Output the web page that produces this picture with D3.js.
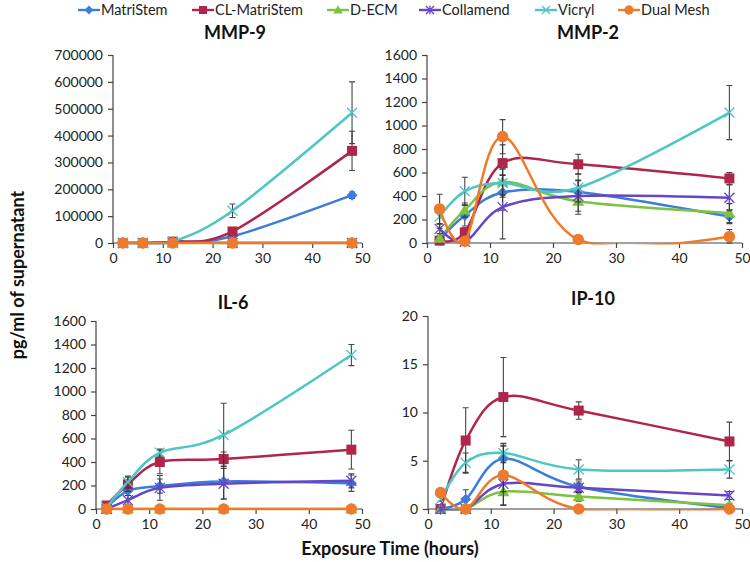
<!DOCTYPE html>
<html><head><meta charset="utf-8">
<script src="https://cdn.jsdelivr.net/npm/d3@7"></script>
<style>body{margin:0;background:#fff}svg{display:block;font-family:Lato,"Open Sans",sans-serif}</style>
</head><body>
<svg id="c" width="750" height="562"></svg>
<script>
const hours = [2, 6, 12, 24, 48];
const seriesNames = ["MatriStem", "CL-MatriStem", "D-ECM", "Collamend", "Vicryl", "Dual Mesh"];
const seriesColors = ["#3C7DDB", "#B0264A", "#7DC242", "#6646C8", "#4EC6C6", "#EE7B2C"];
const seriesMarkers = ["diamond", "square", "triangle", "star", "cross", "circle"];

// MMP-9
const mmp9Values = [
  [0, 0, 2000, 25000, 178000],
  [0, 0, 5000, 43000, 343000],
  [0, 0, 0, 0, 0],
  [0, 0, 3000, 0, 0],
  [0, 0, 5000, 120000, 485000],
  [0, 0, 0, 0, 0]
];
const mmp9Errors = [
  [0, 0, 0, 3000, 12000],
  [0, 0, 1000, 5000, 73000],
  [0, 0, 0, 0, 0],
  [0, 0, 0, 0, 0],
  [0, 0, 2000, 25000, 115000],
  [0, 0, 0, 0, 0]
];
// MMP-2
const mmp2Values = [
  [30, 235, 430, 435, 225],
  [20, 90, 680, 670, 550],
  [40, 280, 520, 355, 255],
  [120, 10, 305, 400, 385],
  [225, 440, 510, 470, 1110],
  [290, 15, 905, 30, 55]
];
const mmp2Errors = [
  [20, 90, 150, 100, 60],
  [15, 40, 155, 85, 50],
  [20, 60, 110, 110, 80],
  [40, 20, 270, 130, 110],
  [100, 120, 120, 120, 230],
  [125, 10, 145, 10, 60]
];
// IL-6
const il6Values = [
  [10, 155, 195, 235, 220],
  [30, 210, 400, 425, 505],
  [0, 0, 0, 0, 0],
  [0, 75, 180, 215, 240],
  [10, 230, 480, 630, 1310],
  [0, 0, 0, 0, 0]
];
const il6Errors = [
  [5, 40, 60, 150, 70],
  [10, 60, 100, 60, 165],
  [0, 0, 0, 0, 0],
  [0, 40, 105, 130, 60],
  [5, 50, 30, 270, 90],
  [0, 0, 0, 0, 0]
];
// IP-10
const ip10Values = [
  [0, 1.0, 5.2, 2.3, 0.1],
  [0, 7.1, 11.6, 10.2, 7.0],
  [0, 0, 1.8, 1.3, 0.4],
  [0, 0, 2.6, 2.2, 1.4],
  [1.0, 4.8, 5.8, 4.1, 4.1],
  [1.7, 0, 3.5, 0, 0]
];
const ip10Errors = [
  [0, 1.0, 1.3, 0.6, 0.2],
  [0, 3.4, 4.1, 0.9, 2.0],
  [0, 0, 1.4, 0.5, 0.2],
  [0, 0, 0.8, 0.5, 0.4],
  [0.2, 1.0, 1.0, 1.0, 0.9],
  [0.2, 0, 3.1, 0, 0]
];

const panels = [
  {title: "MMP-9", values: mmp9Values, errors: mmp9Errors, yMax: 700000, yStep: 100000, x0: 113, x1: 362, y0: 243, y1: 55, tx: 235, ty: 39},
  {title: "MMP-2", values: mmp2Values, errors: mmp2Errors, yMax: 1600, yStep: 200, x0: 427, x1: 742, y0: 243, y1: 55, tx: 588, ty: 39},
  {title: "IL-6", values: il6Values, errors: il6Errors, yMax: 1600, yStep: 200, x0: 96, x1: 362, y0: 509, y1: 321, tx: 233, ty: 309},
  {title: "IP-10", values: ip10Values, errors: ip10Errors, yMax: 20, yStep: 5, x0: 428, x1: 742, y0: 509, y1: 316, tx: 593, ty: 305}
];

const svg = d3.select("#c");
const axisColor = "#444";

function drawMarker(g, type, x, y, color, s) {
  s = s || 1;
  if (type === "diamond") {
    g.append("path").attr("d", `M${x},${y-5.5*s}L${x+5.5*s},${y}L${x},${y+5.5*s}L${x-5.5*s},${y}Z`).attr("fill", color);
  } else if (type === "square") {
    g.append("rect").attr("x", x-5*s).attr("y", y-5*s).attr("width", 10*s).attr("height", 10*s).attr("fill", color);
  } else if (type === "triangle") {
    g.append("path").attr("d", `M${x},${y-6*s}L${x+6*s},${y+4.5*s}L${x-6*s},${y+4.5*s}Z`).attr("fill", color);
  } else if (type === "star") {
    g.append("path").attr("d", `M${x-5*s},${y-5*s}L${x+5*s},${y+5*s}M${x+5*s},${y-5*s}L${x-5*s},${y+5*s}M${x},${y-5.5*s}L${x},${y+5.5*s}`)
      .attr("stroke", color).attr("stroke-width", 1.3).attr("fill", "none");
  } else if (type === "cross") {
    g.append("path").attr("d", `M${x-5*s},${y-5*s}L${x+5*s},${y+5*s}M${x+5*s},${y-5*s}L${x-5*s},${y+5*s}`)
      .attr("stroke", color).attr("stroke-width", 1.3).attr("fill", "none");
  } else if (type === "circle") {
    g.append("circle").attr("cx", x).attr("cy", y).attr("r", 5.8*s).attr("fill", color);
  }
}

panels.forEach((p, pi) => {
  const x = d3.scaleLinear().domain([0, 50]).range([p.x0, p.x1]);
  const y = d3.scaleLinear().domain([0, p.yMax]).range([p.y0, p.y1]);
  const g = svg.append("g");

  const yAxis = d3.axisLeft(y).tickValues(d3.range(0, p.yMax + p.yStep/2, p.yStep)).tickSize(5).tickPadding(5).tickFormat(d3.format("d"));
  const ya = g.append("g").attr("transform", `translate(${p.x0},0)`).call(yAxis);
  const xAxis = d3.axisBottom(x).tickValues([0,10,20,30,40,50]).tickSize(5).tickPadding(5);
  const xa = g.append("g").attr("transform", `translate(0,${p.y0})`).call(xAxis);
  [ya, xa].forEach(a => {
    a.select(".domain").attr("stroke", axisColor).attr("stroke-width", 1.2);
    a.selectAll(".tick line").attr("stroke", axisColor).attr("stroke-width", 1.2);
    a.selectAll(".tick text").attr("fill", "#222").style("font-size", "14px").style("font-family", "Lato, sans-serif");
  });
  ya.select(".domain").attr("d", `M-0,${p.y1}V${p.y0}`);
  xa.select(".domain").attr("d", `M${p.x0},0H${p.x1}`);

  g.append("text").attr("x", p.tx).attr("y", p.ty).attr("text-anchor", "middle")
    .style("font-size", "18px").style("font-weight", "bold").attr("fill", "#111").text(p.title);

  const clipId = "clip" + pi;
  svg.append("clipPath").attr("id", clipId).append("rect")
    .attr("x", p.x0).attr("y", p.y1 - 10).attr("width", p.x1 - p.x0 + 10).attr("height", p.y0 - p.y1 + 11.5);

  const line = d3.line().x((d, i) => x(hours[i])).y(d => y(d)).curve(d3.curveCardinal.tension(0));

  p.values.forEach((vals, si) => {
    const col = seriesColors[si];
    const sg = g.append("g");
    sg.append("path").datum(vals).attr("d", line).attr("fill", "none").attr("stroke", col)
      .attr("stroke-width", 2.5).attr("clip-path", `url(#${clipId})`);
    const errs = p.errors[si];
    vals.forEach((v, i) => {
      const e = errs[i];
      if (!e) return;
      const cx = x(hours[i]);
      const top = y(v + e), bot = y(Math.max(0, v - e));
      sg.append("path").attr("d", `M${cx},${top}V${bot}M${cx-3},${top}H${cx+3}M${cx-3},${bot}H${cx+3}`)
        .attr("stroke", "#333").attr("stroke-width", 1.1).attr("fill", "none").attr("opacity", 0.9);
    });
    vals.forEach((v, i) => drawMarker(sg, seriesMarkers[si], x(hours[i]), y(v), col));
  });
});

// legend
const legendX = [78, 192, 327, 419, 535, 618];
seriesNames.forEach((n, i) => {
  const lg = svg.append("g");
  const lx = legendX[i], ly = 10;
  lg.append("line").attr("x1", lx).attr("x2", lx + 22).attr("y1", ly).attr("y2", ly).attr("stroke", seriesColors[i]).attr("stroke-width", 2.4);
  drawMarker(lg, seriesMarkers[i], lx + 11, ly, seriesColors[i], 0.8);
  lg.append("text").attr("x", lx + 23).attr("y", ly + 5).style("font-size", "14.5px").attr("fill", "#222").text(n);
});

// axis titles
svg.append("text").attr("x", 390).attr("y", 555).attr("text-anchor", "middle")
  .style("font-size", "18px").style("font-weight", "bold").attr("fill", "#111").text("Exposure Time (hours)");
svg.append("text").attr("transform", "translate(24,275) rotate(-90)").attr("text-anchor", "middle")
  .style("font-size", "18px").style("font-weight", "bold").attr("fill", "#111").text("pg/ml of supernatant");
</script>
</body></html>
